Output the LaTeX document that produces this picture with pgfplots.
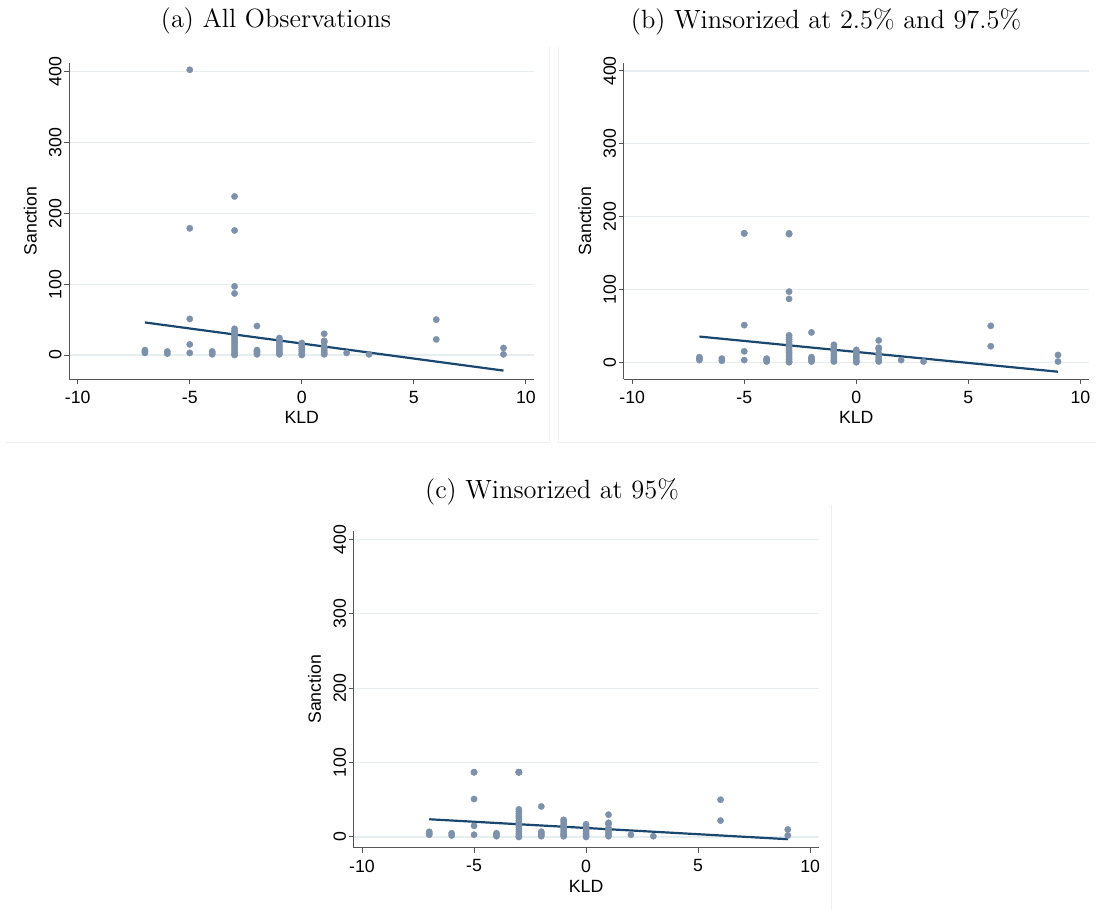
\documentclass[border=0pt]{standalone}
\usepackage{fontspec}
\setsansfont{Liberation Sans}
\usepackage{pgfplots}
\pgfplotsset{compat=1.18}
\definecolor{markc}{HTML}{7D91AA}
\definecolor{linec}{HTML}{1A476F}
\definecolor{gridc}{HTML}{E6EEF0}
\definecolor{axisc}{HTML}{555555}
\definecolor{borderc}{HTML}{EDF0F2}
\pgfplotsset{stataplot/.style={
  scale only axis, width=232.5pt, height=158.3pt,
  xmin=-10.375, xmax=10.375,
  xtick={-10,-5,0,5,10}, ytick={0,100,200,300,400},
  axis x line*=bottom, axis y line*=left,
  axis line style={axisc, line width=0.6pt},
  tick align=outside, major tick length=2.5pt,
  tick style={axisc, line width=0.5pt},
  ymajorgrids, grid style={gridc, line width=0.6pt},
  tick label style={font=\fontsize{8.85}{10}\sffamily, text=black},
  /pgf/number format/assume math mode=true,
  yticklabel={\rotatebox{90}{\pgfmathprintnumber{\tick}}},
  yticklabel style={xshift=2.2pt},
  xlabel={KLD}, ylabel={Sanction},
  label style={font=\fontsize{8.85}{10}\sffamily},
  xlabel style={at={(axis description cs:0.5,-0.1213)}, anchor=center},
  ylabel style={at={(axis description cs:-0.0839,0.5)}, anchor=center},
  anchor=south west,
}}
\pgfplotsset{dots/.style={color=markc, only marks, mark=*, mark size=1.6pt, mark options={solid, fill=markc, draw=markc, line width=0.15pt}}}
\begin{document}
\begin{tikzpicture}
\path[use as bounding box] (0,0) rectangle (548pt,455pt);
% faint panel borders
\draw[borderc, line width=0.5pt] (274.5pt,431.5pt) -- (274.5pt,233.5pt) -- (2.5pt,233.5pt);
\draw[borderc, line width=0.5pt] (279pt,431.5pt) -- (279pt,233.5pt) -- (548pt,233.5pt);
\draw[borderc, line width=0.5pt] (415.5pt,202.5pt) -- (415.5pt,0pt);
% titles
\node[font=\fontsize{13.2}{15}\selectfont] at (138pt,444.5pt) {(a) All Observations};
\node[font=\fontsize{13.2}{15}\selectfont] at (413pt,444.25pt) {(b) Winsorized at 2.5\% and 97.5\%};
\node[font=\fontsize{13.2}{15}\selectfont] at (276pt,209pt) {(c) Winsorized at 95\%};

% Panel (a)
\begin{axis}[stataplot, at={(34.65pt,265.35pt)}, ymin=-34.3, ymax=413]
\addplot[dots] coordinates {
(-7,3)(-7,5)(-7,7)
(-6,2)(-6,5)
(-5,403)(-5,179)(-5,51)(-5,15)(-5,3)
(-4,1)(-4,3)(-4,5)
(-3,224)(-3,176)(-3,97)(-3,87)(-3,37)(-3,34)(-3,31)(-3,28)(-3,25)(-3,22)(-3,19)(-3,16)(-3,13)(-3,10)(-3,7)(-3,4)(-3,1)(-3,0)
(-2,41)(-2,7)(-2,5)(-2,3)(-2,1)
(-1,24)(-1,21)(-1,18)(-1,15)(-1,12)(-1,9)(-1,6)(-1,3)(-1,1)
(0,17)(0,14)(0,11)(0,8)(0,5)(0,2)(0,0)
(1,30)(1,20)(1,18)(1,12)(1,9)(1,6)(1,3)(1,1)
(2,3)(3,1)(6,50)(6,22)(9,10)(9,1)
};
\addplot[linec, line width=1.1pt, no markers] coordinates {(-7,46) (9,-22)};
\end{axis}

% Panel (b)
\begin{axis}[stataplot, at={(311.9pt,265.35pt)}, ymin=-23.4, ymax=411.4]
\addplot[dots] coordinates {
(-7,3)(-7,5)(-7,7)
(-6,2)(-6,5)
(-5,177)(-5,177)(-5,51)(-5,15)(-5,3)
(-4,1)(-4,3)(-4,5)
(-3,177)(-3,176)(-3,97)(-3,87)(-3,37)(-3,34)(-3,31)(-3,28)(-3,25)(-3,22)(-3,19)(-3,16)(-3,13)(-3,10)(-3,7)(-3,4)(-3,1)(-3,0)
(-2,41)(-2,7)(-2,5)(-2,3)(-2,1)
(-1,24)(-1,21)(-1,18)(-1,15)(-1,12)(-1,9)(-1,6)(-1,3)(-1,1)
(0,17)(0,14)(0,11)(0,8)(0,5)(0,2)(0,0)
(1,30)(1,20)(1,18)(1,12)(1,9)(1,6)(1,3)(1,1)
(2,3)(3,1)(6,50)(6,22)(9,10)(9,1)
};
\addplot[linec, line width=1.1pt, no markers] coordinates {(-7,35.3) (9,-13)};
\end{axis}

% Panel (c)
\begin{axis}[stataplot, at={(176.8pt,31.2pt)}, ymin=-14.3, ymax=411.2]
\addplot[dots] coordinates {
(-7,3)(-7,5)(-7,7)
(-6,2)(-6,5)
(-5,87)(-5,87)(-5,51)(-5,15)(-5,3)
(-4,1)(-4,3)(-4,5)
(-3,87)(-3,87)(-3,87)(-3,87)(-3,37)(-3,34)(-3,31)(-3,28)(-3,25)(-3,22)(-3,19)(-3,16)(-3,13)(-3,10)(-3,7)(-3,4)(-3,1)(-3,0)
(-2,41)(-2,7)(-2,5)(-2,3)(-2,1)
(-1,23)(-1,20)(-1,17)(-1,14)(-1,11)(-1,8)(-1,5)(-1,3)(-1,1)
(0,17)(0,14)(0,11)(0,8)(0,5)(0,2)(0,0)
(1,30)(1,19)(1,17)(1,12)(1,9)(1,6)(1,3)(1,1)
(2,3)(3,1)(6,50)(6,22)(9,10)(9,2)
};
\addplot[linec, line width=1.1pt, no markers] coordinates {(-7,23.8) (9,-3)};
\end{axis}
\end{tikzpicture}
\end{document}
